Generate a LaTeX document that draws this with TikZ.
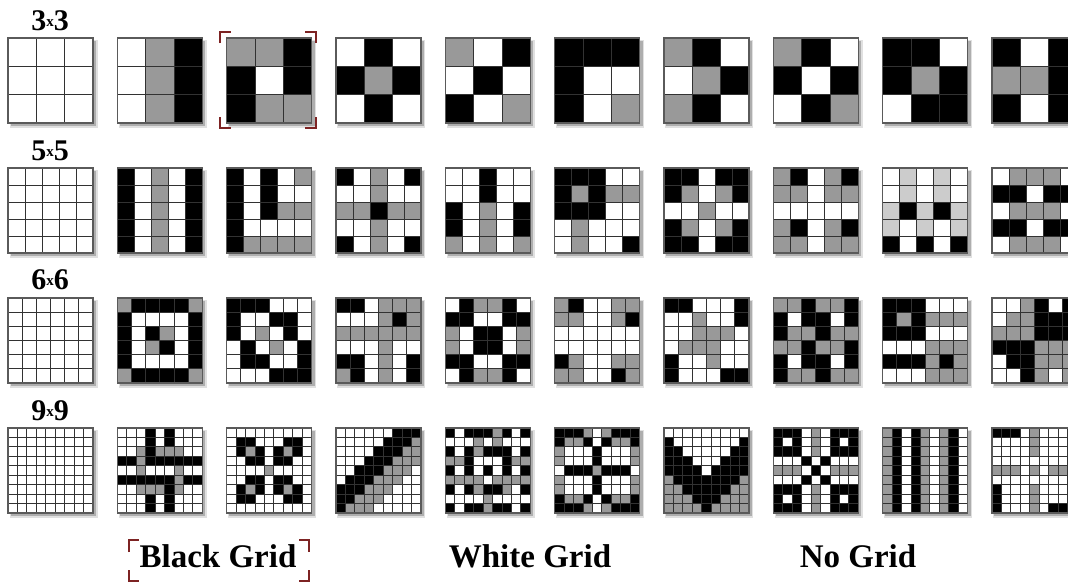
\documentclass[tikz,border=0pt]{standalone}
\usepackage{fontspec}
\setmainfont{Liberation Serif}
\usetikzlibrary{positioning}

\definecolor{cellw}{RGB}{255,255,255}
\definecolor{cellg}{RGB}{153,153,153}
\definecolor{cellb}{RGB}{0,0,0}
\definecolor{celll}{RGB}{204,204,204}
\definecolor{gridline}{RGB}{50,50,50}
\definecolor{gridedge}{RGB}{90,90,90}
\definecolor{cornerred}{RGB}{125,35,35}

% one pattern grid: column, row, cells per side, colours row by row
\newcommand{\patgrid}[4]{%
  \pgfmathsetmacro{\gx}{8+109.33*(#1-1)}%
  \pgfmathsetmacro{\gy}{38+130*(#2-1)}%
  \pgfmathsetmacro{\cw}{85/#3}%
  \fill[black, opacity=0.12] (\gx+1.5,\gy+1.5) rectangle ++(88,88);
  \fill[black, opacity=0.22] (\gx+2.5,\gy+2.5) rectangle ++(85.5,85.5);
  \foreach \cellrow [count=\i] in {#4} {
    \foreach \cl [count=\j] in \cellrow {
      \filldraw[gridcell, fill=cell\cl] ({\gx+(\j-1)*\cw},{\gy+(\i-1)*\cw}) rectangle ++(\cw,\cw);
    }
  }
  \draw[gridborder] (\gx,\gy) rectangle ++(85,85);
}
\newcommand{\sizetimes}{\raisebox{4pt}{\fontsize{15}{15}\selectfont x}}

\begin{document}
\begin{tikzpicture}[x=1pt, y=-1pt,
    gridcell/.style={draw=gridline, line width=0.8pt},
    gridborder/.style={draw=gridedge, line width=1.4pt},
    sizelabel/.style={font=\fontsize{30}{30}\selectfont\bfseries},
    grouplabel/.style={font=\fontsize{33}{33}\selectfont\bfseries},
    corner/.style={draw=cornerred, line width=2.4pt}]
  \useasboundingbox (0,0) rectangle (1068,584);
  \fill[white] (0,0) rectangle (1068,584);

  % size labels
  \node[sizelabel] (size3) at (50,21) {3\sizetimes3};
  \node[sizelabel] (size5) at (50,151) {5\sizetimes5};
  \node[sizelabel] (size6) at (50,280) {6\sizetimes6};
  \node[sizelabel] (size9) at (50,411) {9\sizetimes9};

  % 3x3
  \patgrid{1}{1}{3}{{w,w,w},{w,w,w},{w,w,w}}
  \patgrid{2}{1}{3}{{w,g,b},{w,g,b},{w,g,b}}
  \patgrid{3}{1}{3}{{g,g,b},{b,w,b},{b,g,g}}
  \patgrid{4}{1}{3}{{w,b,w},{b,g,b},{w,b,w}}
  \patgrid{5}{1}{3}{{g,w,b},{w,b,w},{b,w,g}}
  \patgrid{6}{1}{3}{{b,b,b},{b,w,w},{b,w,g}}
  \patgrid{7}{1}{3}{{g,b,w},{w,g,b},{g,b,w}}
  \patgrid{8}{1}{3}{{g,b,w},{b,w,b},{w,b,g}}
  \patgrid{9}{1}{3}{{b,b,w},{b,g,b},{w,b,b}}
  \patgrid{10}{1}{3}{{b,w,b},{g,g,b},{b,w,b}}

  % 5x5
  \patgrid{1}{2}{5}{{w,w,w,w,w},{w,w,w,w,w},{w,w,w,w,w},{w,w,w,w,w},{w,w,w,w,w}}
  \patgrid{2}{2}{5}{{b,w,g,w,b},{b,w,g,w,b},{b,w,g,w,b},{b,w,g,w,b},{b,w,g,w,b}}
  \patgrid{3}{2}{5}{{b,w,b,w,g},{b,w,b,w,w},{b,w,b,g,g},{b,w,w,w,w},{b,g,g,g,g}}
  \patgrid{4}{2}{5}{{b,w,g,w,b},{w,w,g,w,w},{g,g,b,g,g},{w,w,g,w,w},{b,w,g,w,b}}
  \patgrid{5}{2}{5}{{w,w,b,w,w},{w,w,b,w,w},{b,w,g,w,b},{b,w,g,w,b},{g,w,g,w,g}}
  \patgrid{6}{2}{5}{{b,b,b,w,w},{b,g,b,g,g},{b,b,b,w,w},{w,g,w,w,w},{w,g,w,w,b}}
  \patgrid{7}{2}{5}{{b,b,w,b,b},{b,g,w,g,b},{w,w,g,w,w},{b,g,w,g,b},{b,b,w,b,b}}
  \patgrid{8}{2}{5}{{g,b,w,g,b},{g,g,w,g,g},{w,w,w,w,w},{g,b,w,g,b},{g,g,w,g,g}}
  \patgrid{9}{2}{5}{{w,l,w,l,w},{w,l,w,l,w},{l,b,l,b,l},{l,w,l,w,l},{b,w,b,w,b}}
  \patgrid{10}{2}{5}{{w,g,g,g,w},{b,b,w,b,b},{w,g,g,g,w},{b,b,w,b,b},{w,g,g,g,w}}

  % 6x6
  \patgrid{1}{3}{6}{{w,w,w,w,w,w},{w,w,w,w,w,w},{w,w,w,w,w,w},{w,w,w,w,w,w},{w,w,w,w,w,w},{w,w,w,w,w,w}}
  \patgrid{2}{3}{6}{{g,b,b,b,b,g},{b,w,w,w,w,b},{b,w,b,g,w,b},{b,w,g,b,w,b},{b,w,w,w,w,b},{g,b,b,b,b,g}}
  \patgrid{3}{3}{6}{{b,b,b,w,w,w},{b,w,w,b,b,w},{b,w,g,w,b,w},{w,b,w,g,w,b},{w,b,b,w,w,b},{w,w,w,b,b,b}}
  \patgrid{4}{3}{6}{{b,b,w,g,g,g},{w,w,w,g,b,g},{g,g,g,g,g,g},{w,w,w,g,w,w},{b,b,w,g,w,b},{g,b,w,g,w,b}}
  \patgrid{5}{3}{6}{{w,b,g,g,b,w},{b,b,w,w,b,b},{g,w,b,b,w,g},{g,w,b,b,w,g},{b,b,w,w,b,b},{w,b,g,g,b,w}}
  \patgrid{6}{3}{6}{{g,b,w,w,g,g},{g,g,w,w,g,b},{w,w,w,w,w,w},{w,w,w,w,w,w},{b,g,w,w,g,g},{g,g,w,w,b,g}}
  \patgrid{7}{3}{6}{{b,b,w,w,w,b},{w,w,g,w,w,b},{w,w,g,g,g,w},{w,g,g,g,w,w},{b,w,w,g,w,w},{b,w,w,w,b,b}}
  \patgrid{8}{3}{6}{{g,g,b,g,g,b},{b,w,b,b,w,b},{b,g,g,b,g,g},{g,g,b,g,g,b},{b,w,b,b,w,b},{b,g,g,b,g,g}}
  \patgrid{9}{3}{6}{{b,b,b,w,w,w},{b,g,b,g,g,g},{b,b,b,w,w,w},{w,w,w,g,g,g},{b,b,b,g,b,g},{w,w,w,g,g,g}}
  \patgrid{10}{3}{6}{{w,w,g,b,w,b},{w,g,g,b,b,b},{g,g,g,b,b,b},{b,b,b,g,g,g},{w,b,b,g,g,g},{w,w,b,g,w,g}}

  % 9x9
  \patgrid{1}{4}{9}{{w,w,w,w,w,w,w,w,w},{w,w,w,w,w,w,w,w,w},{w,w,w,w,w,w,w,w,w},{w,w,w,w,w,w,w,w,w},{w,w,w,w,w,w,w,w,w},{w,w,w,w,w,w,w,w,w},{w,w,w,w,w,w,w,w,w},{w,w,w,w,w,w,w,w,w},{w,w,w,w,w,w,w,w,w}}
  \patgrid{2}{4}{9}{{w,w,w,b,w,b,w,w,w},{w,w,w,b,w,b,w,w,w},{w,w,g,b,g,g,g,w,w},{b,b,g,b,b,b,b,b,b},{w,w,g,w,w,w,g,w,w},{b,b,b,b,b,b,g,b,b},{w,w,g,g,g,b,g,w,w},{w,w,w,b,w,b,w,w,w},{w,w,w,b,w,b,w,w,w}}
  \patgrid{3}{4}{9}{{w,w,w,w,w,w,w,w,w},{w,b,b,w,w,w,b,b,w},{w,b,g,b,w,b,g,b,w},{w,w,b,b,w,b,b,w,w},{w,w,w,w,g,w,w,w,w},{w,w,b,b,w,b,b,w,w},{w,b,g,b,w,b,g,b,w},{w,b,b,w,w,w,b,b,w},{w,w,w,w,w,w,w,w,w}}
  \patgrid{4}{4}{9}{{w,w,w,w,w,w,b,b,b},{w,w,w,w,w,b,b,b,g},{w,w,w,w,b,b,b,g,g},{w,w,w,b,b,b,g,g,g},{w,w,b,b,b,g,g,g,w},{w,b,b,b,g,g,g,w,w},{b,b,b,g,g,g,w,w,w},{b,b,g,g,g,w,w,w,w},{b,g,g,g,w,w,w,w,w}}
  \patgrid{5}{4}{9}{{b,w,b,b,b,g,b,w,b},{w,w,w,g,w,g,w,w,w},{b,w,b,g,b,b,b,w,b},{g,g,b,w,w,w,b,g,g},{b,w,b,w,b,w,b,w,b},{g,g,g,g,w,g,g,g,g},{b,w,b,g,b,b,g,w,b},{w,w,w,w,g,w,w,w,w},{b,w,b,b,g,b,b,w,b}}
  \patgrid{6}{4}{9}{{b,b,b,g,w,g,b,b,b},{b,g,g,b,w,b,g,g,b},{g,w,w,w,b,w,w,w,g},{g,w,w,w,b,w,w,w,g},{w,b,b,b,g,b,b,b,w},{g,w,w,w,b,w,w,w,g},{g,w,w,w,b,w,w,w,g},{b,g,g,b,w,b,g,g,b},{b,b,b,g,w,g,b,b,b}}
  \patgrid{7}{4}{9}{{w,w,w,w,w,w,w,w,w},{b,w,w,w,w,w,w,w,b},{b,b,w,w,w,w,w,b,b},{b,b,b,w,w,w,b,b,b},{b,b,b,b,w,b,b,b,b},{g,b,b,b,b,b,b,b,g},{g,g,b,b,b,b,b,g,g},{g,g,g,b,b,b,g,g,g},{g,g,g,g,b,g,g,g,g}}
  \patgrid{8}{4}{9}{{b,b,b,w,g,w,b,b,b},{b,w,b,w,g,w,b,w,b},{b,b,b,w,g,w,b,b,b},{w,w,w,b,w,b,w,w,w},{g,g,g,w,b,w,g,g,g},{w,w,w,b,w,b,w,w,w},{b,b,b,w,g,w,b,b,b},{b,w,b,w,g,w,b,w,b},{b,b,b,w,g,w,b,b,b}}
  \patgrid{9}{4}{9}{{g,b,w,b,g,w,g,b,w},{g,b,w,b,g,w,g,b,w},{g,b,w,b,g,w,g,b,w},{g,b,w,b,g,w,g,b,w},{g,b,w,b,g,w,g,b,w},{g,b,w,b,g,w,g,b,w},{g,b,w,b,g,w,g,b,w},{g,b,w,b,g,w,g,b,w},{g,b,w,b,g,w,g,b,w}}
  \patgrid{10}{4}{9}{{b,b,b,w,g,w,w,w,w},{w,w,w,w,g,w,w,w,w},{w,w,w,w,g,w,w,w,w},{w,w,w,w,w,w,w,w,w},{g,g,g,w,g,w,g,g,g},{w,w,w,w,w,w,w,w,w},{b,w,w,w,g,w,w,w,w},{b,w,w,w,g,w,w,w,w},{b,w,w,w,g,w,b,b,b}}

  % brackets round the chosen grid
  \draw[corner] (220,43) -- (220,32) -- (231,32);
  \draw[corner] (305,32) -- (316,32) -- (316,43);
  \draw[corner] (220,117) -- (220,128) -- (231,128);
  \draw[corner] (305,128) -- (316,128) -- (316,117);

  % group labels
  \node[grouplabel] (blackgrid) at (218,556) {Black Grid};
  \node[grouplabel] (whitegrid) at (530,556) {White Grid};
  \node[grouplabel] (nogrid) at (858,556) {No Grid};
  \draw[corner] (129,552) -- (129,540) -- (139,540);
  \draw[corner] (299,540) -- (309,540) -- (309,552);
  \draw[corner] (129,570) -- (129,581) -- (139,581);
  \draw[corner] (299,581) -- (309,581) -- (309,570);
\end{tikzpicture}
\end{document}
